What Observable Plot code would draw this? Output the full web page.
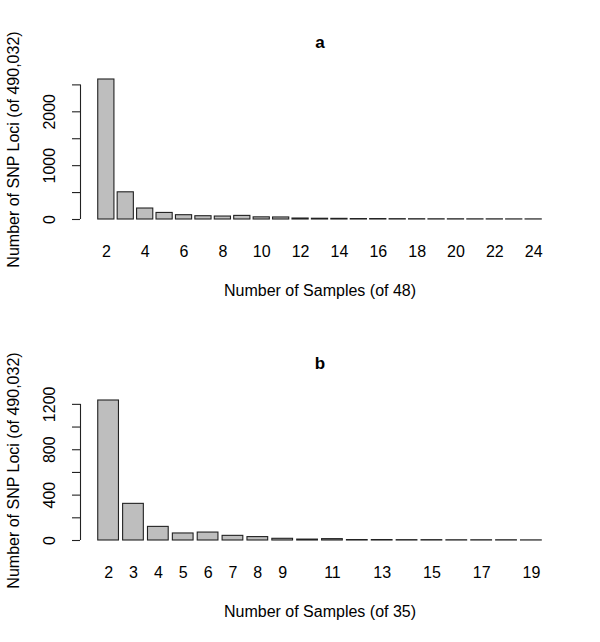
<!DOCTYPE html>
<html>
<head>
<meta charset="utf-8">
<script src="https://cdn.jsdelivr.net/npm/d3@7"></script>
<script src="https://cdn.jsdelivr.net/npm/@observablehq/plot@0.6"></script>
<style>
  body { margin: 0; background: #fff; }
  #chart svg { display: block; }
</style>
</head>
<body>
<div id="chart"></div>
<script>
// panel a: 48 samples
const samplesA = d3.range(2, 25)
const lociA = [2600, 505, 204, 122, 80, 61, 55, 67, 40, 38, 18, 14, 12, 8, 8, 6, 5, 4, 4, 3, 3, 2, 2]
const xLabelsA = [2, 4, 6, 8, 10, 12, 14, 16, 18, 20, 22, 24]
const yTicksA = [0, 500, 1000, 1500, 2000, 2500]
const yLabelsA = [0, 1000, 2000]

// panel b: 35 samples
const samplesB = d3.range(2, 20)
const lociB = [1234, 323, 120, 62, 70, 41, 30, 15, 8, 12, 4, 4, 3, 3, 2, 2, 2, 1]
const xLabelsB = [2, 3, 4, 5, 6, 7, 8, 9, 11, 13, 15, 17, 19]
const yTicksB = [0, 200, 400, 600, 800, 1000, 1200]
const yLabelsB = [0, 400, 800, 1200]

const font = "'Liberation Sans', Arial, Helvetica, sans-serif"

function panel(title, samples, loci, xLabels, yTicks, yLabels, xTitle) {
  let data = samples.map((n, i) => ({n: n, count: loci[i]}))
  // barplot-like spacing: bar width 1, gap 0.2, 4% padding
  let half = 0.5 / 1.2
  let pad = 0.04 * (samples.length * 1.2 - 0.2) / 1.2
  let x0 = samples[0] - half - pad
  let x1 = samples[samples.length - 1] + half + pad
  let ymax = d3.max(loci)

  return Plot.plot({
    width: 600,
    height: 321,
    marginLeft: 80,
    marginRight: 41,
    marginTop: 79,
    marginBottom: 102,
    style: {fontFamily: font, fontSize: "16px", color: "black", background: "white"},
    x: {domain: [x0, x1], axis: null},
    y: {domain: [0, ymax], axis: null},
    marks: [
      Plot.rectY(data, {
        x1: d => d.n - half,
        x2: d => d.n + half,
        y1: 0,
        y2: "count",
        fill: "#bebebe",
        stroke: "#222",
        strokeWidth: 1.1
      }),
      // y axis line + ticks
      Plot.ruleX([x0], {y1: 0, y2: yTicks[yTicks.length - 1], stroke: "#222", strokeWidth: 1.1}),
      Plot.axisY({ticks: yTicks, tickSize: 8, tickFormat: () => "", label: null, stroke: "#222", strokeWidth: 1.1}),
      Plot.text(yLabels, {
        y: d => d, text: d => String(d), frameAnchor: "left", rotate: -90,
        textAnchor: "middle", lineAnchor: "bottom", dx: -26, fontSize: 16, fill: "black"
      }),
      // x labels
      Plot.axisX({ticks: xLabels, tickSize: 0, tickPadding: 26, label: null, fontSize: 16, tickFormat: d => String(d)}),
      // titles
      Plot.text([title], {text: d => d, frameAnchor: "top", lineAnchor: "bottom", dy: -32, fontWeight: "bold", fontSize: 17, fill: "black"}),
      Plot.text([xTitle], {text: d => d, frameAnchor: "bottom", lineAnchor: "bottom", dy: 76, fontSize: 16, fill: "black"}),
      Plot.text(["Number of SNP Loci (of 490,032)"], {
        text: d => d, frameAnchor: "left", rotate: -90, textAnchor: "middle",
        lineAnchor: "bottom", dx: -62, fontSize: 16, fill: "black"
      })
    ]
  })
}

let chartA = panel("a", samplesA, lociA, xLabelsA, yTicksA, yLabelsA, "Number of Samples (of 48)")
let chartB = panel("b", samplesB, lociB, xLabelsB, yTicksB, yLabelsB, "Number of Samples (of 35)")
d3.select("#chart").append(() => chartA)
d3.select("#chart").append(() => chartB)
</script>
</body>
</html>
